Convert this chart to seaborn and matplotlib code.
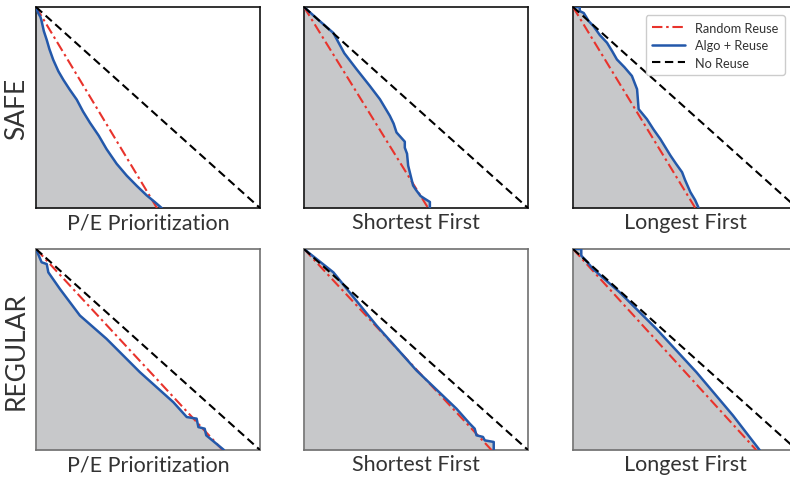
import matplotlib
matplotlib.use("Agg")
import matplotlib.pyplot as plt
import seaborn as sns
import pandas as pd

sns.set_style("white")
plt.rcParams['font.family'] = ['Lato', 'DejaVu Sans']

row_labels = ["SAFE", "REGULAR"]
col_labels = ["P/E Prioritization", "Shortest First", "Longest First"]

# end point (fraction of x range) of Random Reuse line per panel
red_end = [[0.54, 0.554, 0.546],
           [0.833, 0.837, 0.818]]

# Algo + Reuse curves (x, remaining)
safe_pe_x = [0, 0.01, 0.02, 0.025, 0.035, 0.048, 0.06, 0.077, 0.10, 0.122, 0.15, 0.182, 0.21, 0.241, 0.28, 0.315, 0.36, 0.405, 0.45, 0.494, 0.53, 0.561]
safe_pe_y = [1, 0.97, 0.95, 0.93, 0.88, 0.836, 0.79, 0.737, 0.68, 0.638, 0.59, 0.539, 0.48, 0.424, 0.36, 0.293, 0.22, 0.161, 0.11, 0.063, 0.03, 0]

safe_sf_x = [0, 0.06, 0.131, 0.18, 0.235, 0.294, 0.339, 0.383, 0.40, 0.413, 0.45, 0.45, 0.46, 0.465, 0.487, 0.50, 0.52, 0.539, 0.562, 0.562]
safe_sf_y = [1, 0.94, 0.871, 0.77, 0.69, 0.607, 0.541, 0.459, 0.42, 0.376, 0.33, 0.30, 0.27, 0.211, 0.112, 0.09, 0.06, 0.046, 0.03, 0]

safe_lf_x = [0, 0.03, 0.03, 0.048, 0.07, 0.092, 0.12, 0.152, 0.175, 0.196, 0.23, 0.263, 0.286, 0.293, 0.33, 0.36, 0.39, 0.435, 0.46, 0.487, 0.50, 0.524, 0.545, 0.561]
safe_lf_y = [1, 1, 0.98, 0.97, 0.93, 0.904, 0.86, 0.822, 0.78, 0.739, 0.70, 0.657, 0.591, 0.492, 0.442, 0.39, 0.343, 0.261, 0.22, 0.178, 0.14, 0.079, 0.04, 0]

reg_pe_x = [0, 0.025, 0.048, 0.055, 0.107, 0.196, 0.315, 0.464, 0.613, 0.673, 0.717, 0.725, 0.753, 0.760, 0.839]
reg_pe_y = [1, 0.934, 0.925, 0.884, 0.801, 0.669, 0.553, 0.387, 0.238, 0.164, 0.156, 0.114, 0.106, 0.073, 0]

reg_sf_x = [0, 0.131, 0.324, 0.502, 0.681, 0.740, 0.762, 0.770, 0.799, 0.807, 0.847, 0.847]
reg_sf_y = [1, 0.884, 0.619, 0.396, 0.205, 0.131, 0.106, 0.073, 0.065, 0.048, 0.040, 0]

reg_lf_x = [0, 0.037, 0.037, 0.06, 0.089, 0.208, 0.372, 0.551, 0.714, 0.833]
reg_lf_y = [1, 1, 0.967, 0.94, 0.901, 0.785, 0.603, 0.387, 0.172, 0]

algo = [[(safe_pe_x, safe_pe_y), (safe_sf_x, safe_sf_y), (safe_lf_x, safe_lf_y)],
        [(reg_pe_x, reg_pe_y), (reg_sf_x, reg_sf_y), (reg_lf_x, reg_lf_y)]]

RED = "#e8332c"
BLUE = "#2358aa"
FILL = "#c7c8ca"
TXT = "#333333"

fig = plt.figure(figsize=(7.9, 4.81), dpi=100)
lefts = [36 / 790, 304 / 790, 573 / 790]
bottoms = [1 - 209 / 481, 1 - 451 / 481]
w, h = 224 / 790, 201 / 481

for r in range(2):
    for c in range(3):
        ax = fig.add_axes([lefts[c], bottoms[r], w, h])
        xs, ys = algo[r][c]
        df = pd.DataFrame({"x": xs, "y": ys})
        ax.fill_between(df["x"], df["y"], 0, color=FILL, lw=0, zorder=1)
        sns.lineplot(data=pd.DataFrame({"x": [0, red_end[r][c]], "y": [1, 0]}), x="x", y="y",
                     ax=ax, color=RED, lw=1.5, linestyle=(0, (5, 1.8, 1.2, 1.8)),
                     label="Random Reuse", zorder=3, legend=False)
        sns.lineplot(data=df, x="x", y="y", ax=ax, color=BLUE, lw=1.8, sort=False,
                     estimator=None, label="Algo + Reuse", zorder=4, legend=False)
        sns.lineplot(data=pd.DataFrame({"x": [0, 1], "y": [1, 0]}), x="x", y="y",
                     ax=ax, color="black", lw=1.5, linestyle=(0, (4, 2.2)),
                     label="No Reuse", zorder=5, legend=False)
        ax.set_xlim(0, 1)
        ax.set_ylim(0, 1)
        ax.set_xticks([])
        ax.set_yticks([])
        ax.set_xlabel(col_labels[c], fontsize=15.5, labelpad=3, color=TXT)
        if c == 0:
            ax.set_ylabel(row_labels[r], fontsize=19, labelpad=5, color=TXT)
        else:
            ax.set_ylabel("")
        spine_col = "#111111" if r == 0 else "#707070"
        for s in ax.spines.values():
            s.set_color(spine_col)
            s.set_linewidth(1.2)
        if r == 0 and c == 2:
            leg = ax.legend(loc="upper right", bbox_to_anchor=(0.975, 0.99), fontsize=9.2,
                            frameon=True, fancybox=True, framealpha=1, edgecolor="#cccccc",
                            handlelength=2.6, borderpad=0.5, labelspacing=0.42)
            for t in leg.get_texts():
                t.set_color(TXT)

fig.savefig("out.png", dpi=100)
